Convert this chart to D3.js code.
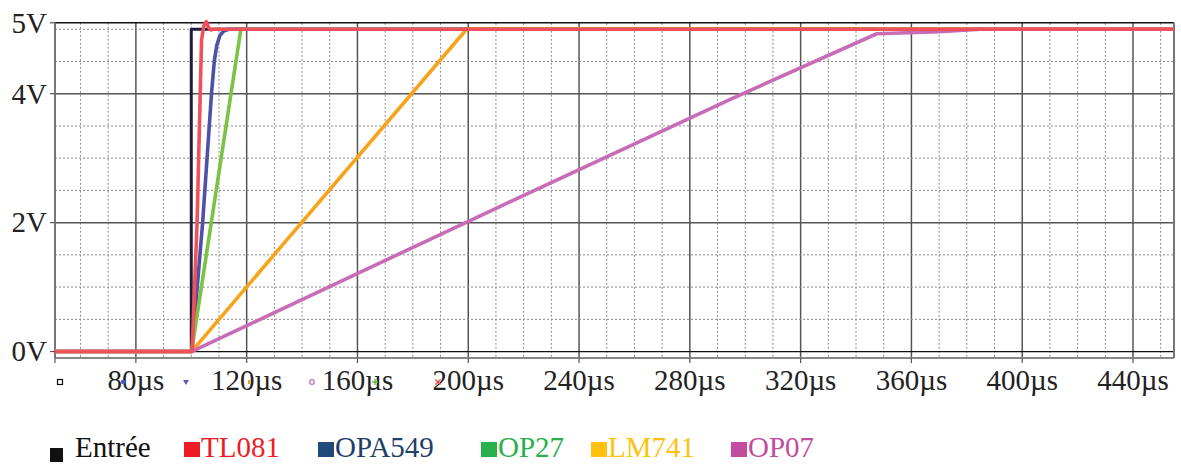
<!DOCTYPE html>
<html>
<head>
<meta charset="utf-8">
<script src="https://cdn.jsdelivr.net/npm/d3@7/dist/d3.min.js"></script>
<style>
  html, body { margin: 0; padding: 0; background: #fff; }
  svg { display: block; }
</style>
</head>
<body>
<svg id="chart" width="1181" height="464" font-family="'Liberation Serif', 'DejaVu Serif', 'Times New Roman', Times, serif"></svg>
<script>
// Step response of several op-amps (time in µs, output in V)
const timeDomain = [50.8, 454.8];
const voltDomain = [-0.1, 5.1];

const xTickValues = [80, 120, 160, 200, 240, 280, 320, 360, 400, 440];
const xTickLabels = ["80µs", "120µs", "160µs", "200µs", "240µs", "280µs", "320µs", "360µs", "400µs", "440µs"];
const yTickValues = [0, 2, 4, 5.1];
const yTickLabels = ["0V", "2V", "4V", "5V"];

const seriesNames = ["Entrée", "TL081", "OPA549", "OP27", "LM741", "OP07"];
const lineColors   = ["#1e1e3c", "#f0505a", "#4f50a8", "#7cc244", "#f8a31c", "#c96cb6"];
const legendColors = ["#111111", "#ed1c24", "#1f4a7a", "#27b04b", "#ffc20e", "#c24c9e"];
const legendText   = ["#111111", "#ed1c24", "#1f3f6b", "#27b04b", "#ffc20e", "#c24c9e"];

// Input step
const entreeT = [50.8, 100, 100, 454.8];
const entreeV = [0, 0, 5, 5];
// TL081
const tl081T = [50.8, 100.3, 102.1, 103.7, 104.5, 105.4, 106.2, 107.0, 108.0, 454.8];
const tl081V = [0, 0, 2.0, 4.83, 5.05, 5.12, 5.03, 4.99, 5.0, 5.0];
// OPA549
const opa549T = [50.8, 100.2, 104.1, 107.3, 108.3, 109.2, 110.3, 111.7, 113.5, 454.8];
const opa549V = [0, 0, 2.0, 4.0, 4.5, 4.75, 4.9, 4.97, 5.0, 5.0];
// OP27
const op27T = [50.8, 100.1, 117.9, 454.8];
const op27V = [0, 0, 5.0, 5.0];
// LM741
const lm741T = [50.8, 100.1, 199.4, 454.8];
const lm741V = [0, 0, 5.0, 5.0];
// OP07
const op07T = [50.8, 100.1, 211.4, 294.4, 347.5, 370.0, 385.0, 454.8];
const op07V = [0, 0, 2.25, 3.91, 4.93, 4.96, 5.0, 5.0];

const seriesT = [entreeT, tl081T, opa549T, op27T, lm741T, op07T];
const seriesV = [entreeV, tl081V, opa549V, op27V, lm741V, op07V];

// Cursor markers under the time axis
const markerShapes = ["square", "circle", "triangle", "dash", "ring", "plus", "cross"];
const markerColors = ["#111111", "#5a5ab4", "#5a5ab4", "#f8a31c", "#c96cb6", "#66bb33", "#ee4444"];

const svg = d3.select("#chart");
const x = d3.scaleLinear().domain(timeDomain).range([55, 1174]);
const y = d3.scaleLinear().domain(voltDomain).range([358, 22.8]);

const plotLeft = x(timeDomain[0]), plotRight = x(timeDomain[1]);
const plotTop = y(voltDomain[1]), plotBottom = y(voltDomain[0]);

const grid = svg.append("g");

// vertical grid: dashed every 10 µs, solid every 40 µs
d3.range(60, 451, 10).forEach(t => {
  const major = t % 40 === 0;
  grid.append("line")
    .attr("x1", x(t)).attr("x2", x(t))
    .attr("y1", plotTop).attr("y2", plotBottom)
    .attr("stroke", major ? "#555" : "#8a8a8a")
    .attr("stroke-width", major ? 1.5 : 1)
    .attr("stroke-dasharray", major ? null : "2,2");
});

// horizontal grid: dashed every 0.5 V, solid at 2 V and 4 V
d3.range(0.5, 5.01, 0.5).forEach(v => {
  const major = Math.abs(v - 2) < 1e-9 || Math.abs(v - 4) < 1e-9;
  grid.append("line")
    .attr("x1", plotLeft).attr("x2", plotRight)
    .attr("y1", y(v)).attr("y2", y(v))
    .attr("stroke", major ? "#555" : "#8a8a8a")
    .attr("stroke-width", major ? 1.5 : 1)
    .attr("stroke-dasharray", major ? null : "2,2");
});

// zero line
grid.append("line")
  .attr("x1", plotLeft).attr("x2", plotRight)
  .attr("y1", y(0)).attr("y2", y(0))
  .attr("stroke", "#111").attr("stroke-width", 1.3);

// frame
grid.append("line").attr("x1", plotLeft).attr("x2", plotRight).attr("y1", plotTop).attr("y2", plotTop)
  .attr("stroke", "#111").attr("stroke-width", 1.6);
grid.append("line").attr("x1", plotLeft).attr("x2", plotRight).attr("y1", plotBottom).attr("y2", plotBottom)
  .attr("stroke", "#888").attr("stroke-width", 2);
grid.append("line").attr("x1", plotLeft).attr("x2", plotLeft).attr("y1", plotTop).attr("y2", plotBottom)
  .attr("stroke", "#777").attr("stroke-width", 2);
grid.append("line").attr("x1", plotRight).attr("x2", plotRight).attr("y1", plotTop).attr("y2", plotBottom)
  .attr("stroke", "#777").attr("stroke-width", 2);

// axis ticks and labels
const axes = svg.append("g");
[timeDomain[0]].concat(xTickValues).forEach(t => {
  axes.append("line").attr("x1", x(t)).attr("x2", x(t))
    .attr("y1", plotBottom).attr("y2", plotBottom + 5)
    .attr("stroke", "#555").attr("stroke-width", 1.2);
});
xTickValues.forEach((t, i) => {
  axes.append("text")
    .attr("x", x(t)).attr("y", 390)
    .attr("text-anchor", "middle")
    .attr("font-size", 29).attr("fill", "#222")
    .text(xTickLabels[i]);
});
yTickValues.forEach((v, i) => {
  axes.append("line").attr("x1", plotLeft - 5).attr("x2", plotLeft)
    .attr("y1", y(v)).attr("y2", y(v))
    .attr("stroke", "#555").attr("stroke-width", 1.2);
  axes.append("text")
    .attr("x", 47).attr("y", y(v))
    .attr("dy", "0.34em")
    .attr("text-anchor", "end")
    .attr("font-size", 29).attr("fill", "#222")
    .text(yTickLabels[i]);
});

// traces
const line = d3.line().x(d => x(d[0])).y(d => y(d[1]));
const drawOrder = [0, 2, 3, 4, 5, 1];
const traces = svg.append("g").attr("fill", "none")
  .attr("stroke-linejoin", "round").attr("stroke-linecap", "butt");
drawOrder.forEach(k => {
  const pts = seriesT[k].map((t, i) => [t, seriesV[k][i]]);
  traces.append("path")
    .attr("d", line(pts))
    .attr("stroke", lineColors[k])
    .attr("stroke-width", k === 0 ? 3 : 3.6);
});

// cursor markers
const mk = svg.append("g");
markerShapes.forEach((s, i) => {
  const cx = 60 + i * 63, cy = 382, c = markerColors[i];
  if (s === "square") mk.append("rect").attr("x", cx - 2.5).attr("y", cy - 2.5).attr("width", 5).attr("height", 5)
    .attr("fill", "none").attr("stroke", c).attr("stroke-width", 1.2);
  else if (s === "circle") mk.append("circle").attr("cx", cx).attr("cy", cy).attr("r", 2.2).attr("fill", c);
  else if (s === "triangle") mk.append("path").attr("d", `M${cx - 3},${cy - 2}L${cx + 3},${cy - 2}L${cx},${cy + 3}Z`).attr("fill", c);
  else if (s === "dash") mk.append("rect").attr("x", cx - 1).attr("y", cy - 2).attr("width", 2).attr("height", 4).attr("fill", c);
  else if (s === "ring") mk.append("circle").attr("cx", cx).attr("cy", cy).attr("r", 2.3).attr("fill", "none").attr("stroke", c).attr("stroke-width", 1.2);
  else if (s === "plus") mk.append("path").attr("d", `M${cx - 3},${cy}H${cx + 3}M${cx},${cy - 3}V${cy + 3}`).attr("stroke", c).attr("stroke-width", 1.4);
  else if (s === "cross") mk.append("path").attr("d", `M${cx - 2.5},${cy - 2.5}L${cx + 2.5},${cy + 2.5}M${cx + 2.5},${cy - 2.5}L${cx - 2.5},${cy + 2.5}`).attr("stroke", c).attr("stroke-width", 1.4);
});

// legend
const legendX = [50, 184, 318, 481, 591, 731];
const lg = svg.append("g");
seriesNames.forEach((name, i) => {
  const sx = legendX[i];
  const first = i === 0;
  lg.append("rect")
    .attr("x", sx).attr("y", first ? 448 : 442)
    .attr("width", first ? 13 : 16).attr("height", first ? 14 : 15)
    .attr("fill", legendColors[i]);
  lg.append("text")
    .attr("x", first ? sx + 25 : sx + 17)
    .attr("y", 457)
    .attr("font-size", 29)
    .attr("fill", legendText[i])
    .text(name);
});
</script>
</body>
</html>
